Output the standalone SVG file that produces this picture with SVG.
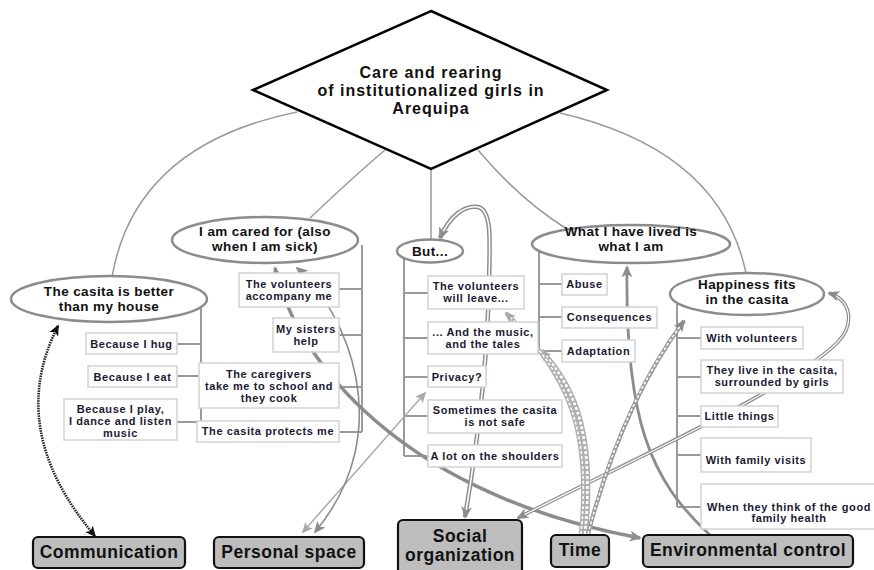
<svg xmlns="http://www.w3.org/2000/svg" width="874" height="570" viewBox="0 0 874 570">
<style>
.tree{stroke:#9a9a9a;stroke-width:2;fill:none}
.box{fill:#fff;stroke:#d2d2d2;stroke-width:1.5}
.bt{font-family:"Liberation Sans",Arial,sans-serif;font-weight:bold;font-size:11px;letter-spacing:0.6px;fill:#1a1a33;text-anchor:middle}
.ell{fill:#fff;stroke:#8c8c8c;stroke-width:2.5}
.et{font-family:"Liberation Sans",Arial,sans-serif;font-weight:bold;font-size:13.5px;letter-spacing:0.4px;fill:#111;text-anchor:middle}
.cat{fill:#bdbdbd;stroke:#111;stroke-width:2.2}
.ct{font-family:"Liberation Sans",Arial,sans-serif;font-weight:bold;font-size:17.5px;letter-spacing:0.5px;fill:#111;text-anchor:middle}
.dt{font-family:"Liberation Sans",Arial,sans-serif;font-weight:bold;font-size:16px;letter-spacing:1px;fill:#111;text-anchor:middle}
.hier{stroke:#9a9a9a;stroke-width:1.5;fill:none}
</style>
<defs>
<marker id="ag" viewBox="0 0 10 10" refX="8.5" refY="5" markerWidth="12" markerHeight="12" markerUnits="userSpaceOnUse" orient="auto-start-reverse"><path d="M0,0.5 L10,5 L0,9.5 L2.5,5z" fill="#8c8c8c"/></marker>
<marker id="al" viewBox="0 0 10 10" refX="8.5" refY="5" markerWidth="11" markerHeight="11" markerUnits="userSpaceOnUse" orient="auto-start-reverse"><path d="M0,0.5 L10,5 L0,9.5 L2.5,5z" fill="#a8a8a8"/></marker>
<marker id="ab" viewBox="0 0 10 10" refX="8.5" refY="5" markerWidth="11" markerHeight="11" markerUnits="userSpaceOnUse" orient="auto-start-reverse"><path d="M0,0.5 L10,5 L0,9.5 L2.5,5z" fill="#111"/></marker>
</defs>
<rect width="874" height="570" fill="#fff"/>

<g id="hierarchy">
<path class="hier" d="M297,112 Q135,145 112,277"/>
<path class="hier" d="M385,150 Q352,178 310,218"/>
<path class="hier" d="M431,169 L431,240"/>
<path class="hier" d="M478,150 Q520,200 567,229"/>
<path class="hier" d="M560,113 Q720,150 746,273"/>
<path class="tree" d="M201,307 V422 M177,344 H201 M177,376 H199 M177,422 H197"/>
<path class="tree" d="M362,245 V432 M339,289 H362 M339,335 H362 M339,387 H362 M339,432 H362"/>
<path class="tree" d="M404,258 V456 M404,293 H428 M404,338 H428 M404,377 H428 M404,416 H428 M404,456 H428"/>
<path class="tree" d="M539,251 V351 M539,284 H562 M539,317 H562 M539,351 H562"/>
<path class="tree" d="M677,303 V507 M677,338 H701 M677,377 H701 M677,416 H701 M677,455 H701 M677,507 H701"/>
</g>

<g id="connectors">
<path d="M58,326 Q5,430 95,536" fill="none" stroke="#222" stroke-width="2.6" stroke-dasharray="1.5,1" marker-start="url(#ab)" marker-end="url(#ab)"/>
<path d="M425,393 L303,532" fill="none" stroke="#aaa" stroke-width="1.5" marker-start="url(#al)" marker-end="url(#al)"/>
<path d="M297,268 C345,310 400,430 315,532" fill="none" stroke="#8c8c8c" stroke-width="1.6" marker-start="url(#ag)" marker-end="url(#ag)"/>
<path d="M275,268 C290,340 380,490 640,538" fill="none" stroke="#8c8c8c" stroke-width="3.5" marker-start="url(#ag)" marker-end="url(#ag)"/>
<path d="M627,267 C625,420 650,480 710,535" fill="none" stroke="#8c8c8c" stroke-width="2.8" marker-start="url(#ag)"/>
<path d="M440,238 C450,215 465,205 478,207 C492,210 490,240 489,280 C488,360 478,440 465,517" fill="none" stroke="#8c8c8c" stroke-width="4.5"/>
<path d="M440,238 C450,215 465,205 478,207 C492,210 490,240 489,280 C488,360 478,440 465,517" fill="none" stroke="#fff" stroke-width="1.6"/>
<path d="M440,238 C450,215 465,205 478,207 C492,210 490,240 489,280 C488,360 478,440 465,517" fill="none" stroke="none" marker-start="url(#ag)" marker-end="url(#ag)"/>
<path d="M518,518 C620,465 790,390 838,342 C856,322 850,300 829,293" fill="none" stroke="#8c8c8c" stroke-width="3.6"/>
<path d="M518,518 C620,465 790,390 838,342 C856,322 850,300 829,293" fill="none" stroke="#fff" stroke-width="1.2"/>
<path d="M518,518 C620,465 790,390 838,342 C856,322 850,300 829,293" fill="none" stroke="none" marker-start="url(#ag)" marker-end="url(#ag)"/>
<path d="M585,534 C594,440 578,390 541,351" fill="none" stroke="#b0b0b0" stroke-width="6"/>
<path d="M585,534 C594,440 578,390 541,351" fill="none" stroke="#fff" stroke-width="2.6" stroke-dasharray="3,2"/>
<path d="M585,534 C594,440 578,390 541,351" fill="none" stroke="none" marker-end="url(#al)"/>
<path d="M581,534 C590,440 575,380 506,313" fill="none" stroke="#b0b0b0" stroke-width="4.2"/>
<path d="M581,534 C590,440 575,380 506,313" fill="none" stroke="#fff" stroke-width="1.6" stroke-dasharray="3,2"/>
<path d="M581,534 C590,440 575,380 506,313" fill="none" stroke="none" marker-end="url(#al)"/>
<path d="M588,534 C610,450 640,380 684,321" fill="none" stroke="#999" stroke-width="4.2"/>
<path d="M588,534 C610,450 640,380 684,321" fill="none" stroke="#fff" stroke-width="1.6" stroke-dasharray="3,2"/>
<path d="M588,534 C610,450 640,380 684,321" fill="none" stroke="none" marker-end="url(#ag)"/>
</g>

<g id="n-root">
<polygon points="431,11 607,90 431,169 253,90" fill="#fff" stroke="#000" stroke-width="2.5"/>
<text class="dt" x="431" y="78">Care and rearing</text>
<text class="dt" x="431" y="96">of institutionalized girls in</text>
<text class="dt" x="431" y="114">Arequipa</text>
</g>

<g id="n-casita-better">
<ellipse class="ell" cx="109" cy="299" rx="98" ry="23"/>
<text class="et" x="109" y="296">The casita is better</text>
<text class="et" x="109" y="311">than my house</text>
</g>
<g id="n-cared-for">
<ellipse class="ell" cx="265" cy="240" rx="93" ry="23"/>
<text class="et" x="265" y="236">I am cared for (also</text>
<text class="et" x="265" y="251">when I am sick)</text>
</g>
<g id="n-but">
<ellipse class="ell" cx="430" cy="251" rx="33" ry="11.5"/>
<text class="et" x="430" y="256">But...</text>
</g>
<g id="n-lived">
<ellipse class="ell" cx="631" cy="244" rx="99" ry="19"/>
<text class="et" x="631" y="236">What I have lived is</text>
<text class="et" x="631" y="251">what I am</text>
</g>
<g id="n-happiness">
<ellipse class="ell" cx="747" cy="294" rx="77" ry="21"/>
<text class="et" x="747" y="289">Happiness fits</text>
<text class="et" x="747" y="304">in the casita</text>
</g>

<g id="b-hug"><rect class="box" x="86" y="333" width="91" height="21"/><text class="bt" x="131.5" y="348">Because I hug</text></g>
<g id="b-eat"><rect class="box" x="88" y="366" width="89" height="21"/><text class="bt" x="132.5" y="381">Because I eat</text></g>
<g id="b-play"><rect class="box" x="64" y="399" width="113" height="41"/><text class="bt" x="120.5" y="413">Because I play,</text><text class="bt" x="120.5" y="425">I dance and listen</text><text class="bt" x="120.5" y="437">music</text></g>

<g id="b-vol-accompany"><rect class="box" x="239" y="273" width="100" height="34"/><text class="bt" x="289" y="288">The volunteers</text><text class="bt" x="289" y="300">accompany me</text></g>
<g id="b-sisters"><rect class="box" x="273" y="318" width="66" height="34"/><text class="bt" x="306" y="333">My sisters</text><text class="bt" x="306" y="345">help</text></g>
<g id="b-caregivers"><rect class="box" x="199" y="363" width="140" height="45"/><text class="bt" x="269" y="378">The caregivers</text><text class="bt" x="269" y="390">take me to school and</text><text class="bt" x="269" y="402">they cook</text></g>
<g id="b-protects"><rect class="box" x="197" y="421" width="142" height="21"/><text class="bt" x="268" y="435">The casita protects me</text></g>

<g id="b-vol-leave"><rect class="box" x="428" y="276" width="96" height="33"/><text class="bt" x="476" y="290">The volunteers</text><text class="bt" x="476" y="302">will leave...</text></g>
<g id="b-music"><rect class="box" x="428" y="322" width="110" height="32"/><text class="bt" x="483" y="336">... And the music,</text><text class="bt" x="483" y="348">and the tales</text></g>
<g id="b-privacy"><rect class="box" x="428" y="366" width="58" height="21"/><text class="bt" x="457" y="381">Privacy?</text></g>
<g id="b-notsafe"><rect class="box" x="428" y="400" width="134" height="33"/><text class="bt" x="495" y="414">Sometimes the casita</text><text class="bt" x="495" y="426">is not safe</text></g>
<g id="b-shoulders"><rect class="box" x="428" y="445" width="134" height="22"/><text class="bt" x="495" y="460">A lot on the shoulders</text></g>

<g id="b-abuse"><rect class="box" x="562" y="274" width="45" height="21"/><text class="bt" x="584.5" y="288">Abuse</text></g>
<g id="b-consequences"><rect class="box" x="562" y="307" width="95" height="21"/><text class="bt" x="609.5" y="321">Consequences</text></g>
<g id="b-adaptation"><rect class="box" x="562" y="340" width="73" height="22"/><text class="bt" x="598.5" y="355">Adaptation</text></g>

<g id="b-with-vol"><rect class="box" x="701" y="327" width="102" height="22"/><text class="bt" x="752" y="342">With volunteers</text></g>
<g id="b-live"><rect class="box" x="701" y="360" width="142" height="33"/><text class="bt" x="772" y="374">They live in the casita,</text><text class="bt" x="772" y="386">surrounded by girls</text></g>
<g id="b-little"><rect class="box" x="701" y="406" width="77" height="21"/><text class="bt" x="739.5" y="420">Little things</text></g>
<g id="b-visits"><rect class="box" x="701" y="438" width="110" height="34"/><text class="bt" x="756" y="464">With family visits</text></g>
<g id="b-health"><rect class="box" x="701" y="484" width="176" height="45"/><text class="bt" x="789" y="511">When they think of the good</text><text class="bt" x="789" y="522">family health</text></g>

<g id="c-communication"><rect class="cat" x="33" y="537" width="152" height="31" rx="5"/><text class="ct" x="109" y="558">Communication</text></g>
<g id="c-personal"><rect class="cat" x="214" y="537" width="150" height="31" rx="5"/><text class="ct" x="289" y="558">Personal space</text></g>
<g id="c-social"><rect class="cat" x="398" y="520" width="124" height="56" rx="5"/><text class="ct" x="460" y="542">Social</text><text class="ct" x="460" y="561">organization</text></g>
<g id="c-time"><rect class="cat" x="551" y="535" width="58" height="32" rx="5"/><text class="ct" x="580" y="556">Time</text></g>
<g id="c-env"><rect class="cat" x="643" y="535" width="210" height="32" rx="5"/><text class="ct" x="748" y="556">Environmental control</text></g>
</svg>
